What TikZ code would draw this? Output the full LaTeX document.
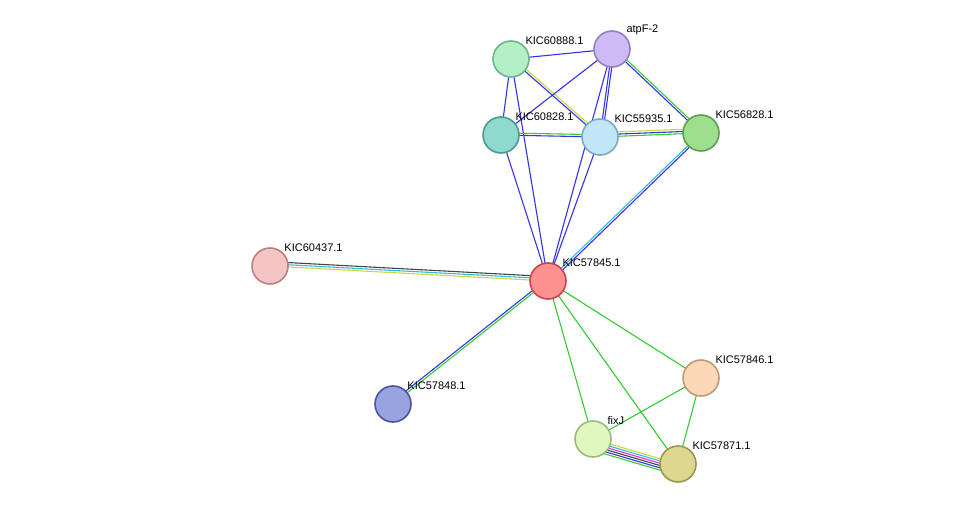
\documentclass[tikz,border=0pt]{standalone}
\usepackage{fontspec}
\setmainfont{Liberation Sans}
\usetikzlibrary{calc}
\definecolor{eblue}{HTML}{3333EE}
\definecolor{egreen}{HTML}{33CC33}
\definecolor{eyellow}{HTML}{C8D83A}
\definecolor{ecyan}{HTML}{33BBDD}
\definecolor{emag}{HTML}{DD33DD}
\definecolor{egray}{HTML}{444444}
\tikzset{
  prot/.style={circle, draw, line width=1.6pt, minimum size=36pt, inner sep=0pt},
  lbl/.style={font=\fontsize{11}{12}\selectfont, inner sep=1pt},
  link/.style={line width=1.1pt},
}
% parallel coloured links between two nodes
\newcommand{\plinks}[3]{%
  \foreach \c [count=\i] in {#3}{%
    \pgfmathsetmacro{\off}{(\i-1)*2.2}
    \draw[link, \c] ($(#1.center)!\off pt!90:(#2.center)$) -- ($(#2.center)!\off pt!-90:(#1.center)$);
  }}
\begin{document}
\begin{tikzpicture}[x=1pt, y=-1pt]
\useasboundingbox (0,0) rectangle (976,510);
\coordinate (p60888) at (511,59);
\coordinate (patpF) at (612,49);
\coordinate (p60828) at (501,135);
\coordinate (p55935) at (600,137);
\coordinate (p56828) at (701,133);
\coordinate (p60437) at (270,266);
\coordinate (p57845) at (548,281);
\coordinate (p57848) at (393,404);
\coordinate (p57846) at (701,378);
\coordinate (pfixJ) at (593,439);
\coordinate (p57871) at (678,464);

\plinks{p60888}{patpF}{eblue}
\plinks{p60888}{p60828}{eblue}
\plinks{p60888}{p55935}{eblue,eyellow}
\plinks{p60888}{p57845}{eblue}
\plinks{patpF}{p60828}{eblue}
\plinks{patpF}{p55935}{eblue,eblue}
\plinks{patpF}{p56828}{eblue,egreen}
\plinks{patpF}{p57845}{eblue}
\plinks{p60828}{p55935}{eblue,egreen}
\plinks{p60828}{p57845}{eblue}
\plinks{p55935}{p56828}{egreen,eblue,eyellow}
\plinks{p55935}{p57845}{eblue}
\plinks{p56828}{p57845}{ecyan,eblue}
\plinks{p60437}{p57845}{eyellow,ecyan,egray}
\plinks{p57848}{p57845}{egreen,eblue}
\plinks{p57845}{p57846}{egreen}
\plinks{p57845}{pfixJ}{egreen}
\plinks{p57845}{p57871}{egreen}
\plinks{pfixJ}{p57846}{egreen}
\plinks{p57846}{p57871}{egreen}
\plinks{p57871}{pfixJ}{eyellow,ecyan,emag,egray,eblue,egreen}

\node[prot, fill={rgb,255:red,179;green,240;blue,200}, draw={rgb,255:red,111;green,181;blue,138}, label={[lbl]45:KIC60888.1}] (n60888) at (p60888) {};
\node[prot, fill={rgb,255:red,205;green,187;blue,245}, draw={rgb,255:red,148;green,128;blue,192}, label={[lbl]45:atpF-2}] (natpF) at (patpF) {};
\node[prot, fill={rgb,255:red,143;green,217;blue,207}, draw={rgb,255:red,77;green,154;blue,144}, label={[lbl]45:KIC60828.1}] (n60828) at (p60828) {};
\node[prot, fill={rgb,255:red,192;green,230;blue,248}, draw={rgb,255:red,126;green,169;blue,192}, label={[lbl]45:KIC55935.1}] (n55935) at (p55935) {};
\node[prot, fill={rgb,255:red,158;green,222;blue,143}, draw={rgb,255:red,93;green,160;blue,80}, label={[lbl]45:KIC56828.1}] (n56828) at (p56828) {};
\node[prot, fill={rgb,255:red,245;green,196;blue,196}, draw={rgb,255:red,187;green,128;blue,128}, label={[lbl]45:KIC60437.1}] (n60437) at (p60437) {};
\node[prot, fill={rgb,255:red,255;green,144;blue,144}, draw={rgb,255:red,204;green,68;blue,68}, label={[lbl]45:KIC57845.1}] (n57845) at (p57845) {};
\node[prot, fill={rgb,255:red,152;green,164;blue,224}, draw={rgb,255:red,74;green,85;blue,153}, label={[lbl]45:KIC57848.1}] (n57848) at (p57848) {};
\node[prot, fill={rgb,255:red,253;green,216;blue,184}, draw={rgb,255:red,192;green,154;blue,120}, label={[lbl]45:KIC57846.1}] (n57846) at (p57846) {};
\node[prot, fill={rgb,255:red,224;green,248;blue,192}, draw={rgb,255:red,160;green,184;blue,128}, label={[lbl]45:fixJ}] (nfixJ) at (pfixJ) {};
\node[prot, fill={rgb,255:red,220;green,216;blue,144}, draw={rgb,255:red,153;green,153;blue,80}, label={[lbl]45:KIC57871.1}] (n57871) at (p57871) {};
\end{tikzpicture}
\end{document}
